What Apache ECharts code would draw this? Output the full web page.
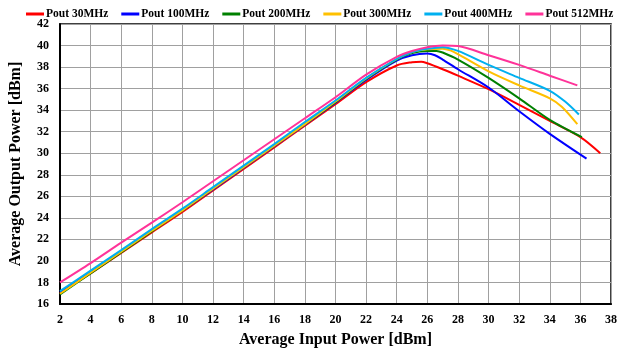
<!DOCTYPE html>
<html>
<head>
<meta charset="utf-8">
<script src="https://cdn.jsdelivr.net/npm/echarts@6/dist/echarts.min.js"></script>
<style>
  html, body { margin: 0; padding: 0; background: #fff; }
  #chart { width: 620px; height: 353px; }
</style>
</head>
<body>
<div id="chart"></div>
<script>
// Output power vs input power for six test frequencies
const seriesNames = ['Pout 30MHz', 'Pout 100MHz', 'Pout 200MHz', 'Pout 300MHz', 'Pout 400MHz', 'Pout 512MHz'];
const seriesColors = ['#ff0000', '#0000ff', '#008000', '#ffc000', '#00b0f0', '#ff3399'];

// [input dBm, output dBm]
const pout30 = [[2,17.0],[4,18.85],[6,20.75],[8,22.65],[10,24.55],[12,26.55],[14,28.55],[16,30.55],[18,32.55],[20,34.55],[22,36.6],[24,38.15],[25,38.45],[25.6,38.5],[26,38.35],[27,37.8],[28,37.2],[30,35.95],[32,34.5],[34,33.0],[36,31.5],[37.3,30.0]];
const pout100 = [[2,17.1],[4,19.0],[6,20.9],[8,22.8],[10,24.7],[12,26.65],[14,28.65],[16,30.65],[18,32.65],[20,34.7],[22,36.8],[24,38.6],[25,39.1],[26,39.25],[26.5,39.1],[27,38.7],[28,37.8],[30,36.1],[32,33.9],[34,31.8],[36.4,29.5]];
const pout200 = [[2,16.9],[4,18.85],[6,20.8],[8,22.75],[10,24.7],[12,26.7],[14,28.7],[16,30.7],[18,32.7],[20,34.75],[22,36.9],[24,38.7],[25,39.3],[26,39.5],[26.6,39.5],[27,39.35],[28,38.7],[30,37.0],[32,35.1],[34,33.1],[36.1,31.5]];
const pout300 = [[2,16.95],[4,18.9],[6,20.85],[8,22.8],[10,24.7],[12,26.7],[14,28.7],[16,30.7],[18,32.7],[20,34.8],[22,36.95],[24,38.75],[25,39.4],[26,39.65],[27,39.7],[27.5,39.55],[28,39.2],[30,37.6],[32,36.3],[34,35.1],[34.8,34.3],[35.8,32.7]];
const pout400 = [[2,17.2],[4,19.1],[6,21.0],[8,22.95],[10,24.85],[12,26.85],[14,28.85],[16,30.85],[18,32.9],[20,34.9],[22,37.0],[24,38.75],[25,39.4],[26,39.7],[27,39.85],[28,39.5],[30,38.2],[32,37.0],[34,35.8],[35,34.8],[35.9,33.6]];
const pout512 = [[2,18.0],[4,19.8],[6,21.7],[8,23.55],[10,25.45],[12,27.4],[14,29.35],[16,31.3],[18,33.25],[20,35.2],[22,37.3],[24,38.95],[25,39.5],[26,39.85],[27,40.0],[28,39.95],[30,39.1],[32,38.2],[34,37.2],[35.8,36.3]];

const seriesData = [pout30, pout100, pout200, pout300, pout400, pout512];

const serifBold = { fontFamily: 'Liberation Serif', fontWeight: 'bold', color: '#000' };

const chart = echarts.init(document.getElementById('chart'), null, { renderer: 'canvas' });
chart.setOption({
  animation: false,
  backgroundColor: '#fff',
  legend: {
    top: 3,
    left: 21,
    width: 599,
    itemWidth: 18,
    itemHeight: 3,
    itemGap: 13,
    icon: 'rect',
    textStyle: Object.assign({ fontSize: 11.5, padding: [0, 0, 0, -3] }, serifBold),
    data: seriesNames
  },
  grid: {
    left: 58, right: 6, top: 24, bottom: 42,
    show: true, borderColor: '#000', borderWidth: 1.5
  },
  xAxis: {
    type: 'value', min: 2, max: 38, interval: 2,
    name: 'Average Input Power [dBm]',
    nameLocation: 'middle', nameGap: 28,
    nameTextStyle: Object.assign({ fontSize: 16 }, serifBold),
    axisLine: { show: true, lineStyle: { color: '#000', width: 2 } },
    axisTick: { show: false },
    axisLabel: Object.assign({ fontSize: 12, margin: 10 }, serifBold),
    splitLine: { show: true, lineStyle: { color: '#a0a0a0', width: 1 } }
  },
  yAxis: {
    type: 'value', min: 16, max: 42, interval: 2,
    name: 'Average Output Power [dBm]',
    nameLocation: 'middle', nameGap: 36,
    nameTextStyle: Object.assign({ fontSize: 16 }, serifBold),
    axisLine: { show: true, lineStyle: { color: '#000', width: 2 } },
    axisTick: { show: false },
    axisLabel: Object.assign({ fontSize: 12, margin: 11 }, serifBold),
    splitLine: { show: true, lineStyle: { color: '#a0a0a0', width: 1 } }
  },
  series: seriesNames.map((name, i) => ({
    name: name,
    type: 'line',
    data: seriesData[i],
    smooth: 0.3,
    showSymbol: false,
    symbol: 'none',
    color: seriesColors[i],
    lineStyle: { width: 2, color: seriesColors[i] }
  }))
});
</script>
</body>
</html>
